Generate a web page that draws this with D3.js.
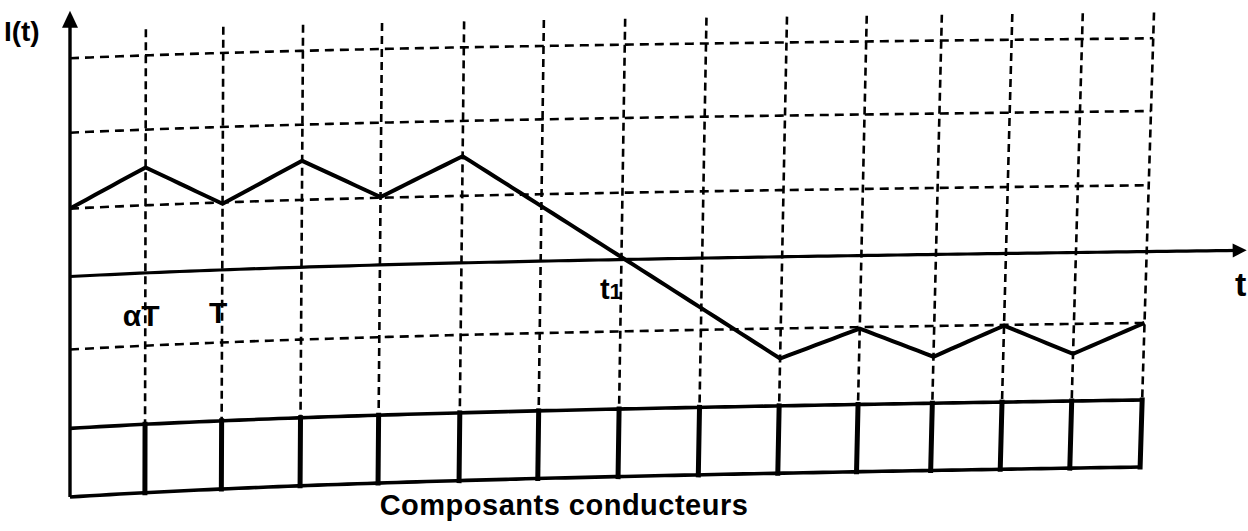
<!DOCTYPE html>
<html><head><meta charset="utf-8">
<script src="https://cdn.jsdelivr.net/npm/d3@7"></script>
<style>html,body{margin:0;padding:0;background:#fff;} svg{display:block;} text{font-family:"Liberation Sans",Arial,sans-serif;font-weight:bold;fill:#000;}</style>
</head><body><svg id="c" width="1248" height="531"></svg>
<script>
// ---- data ----
const gridTimes   = [0.98, 1.98, 3.01, 4.03, 5.09, 6.12, 7.17, 8.22, 9.26, 10.29, 11.26, 12.17, 13.08, 14.0];
const waveTimes   = [0, 0.98, 1.98, 3.01, 4.03, 5.09, 9.26, 10.29, 11.26, 12.17, 13.08, 14.0];
const waveCurrent = [0.93, 1.45, 0.91, 1.47, 0.94, 1.48, -1.42, -1.02, -1.43, -1.01, -1.42, -1.00];
const gridLevels  = [2.99, 1.97, 0.93, -1.0];
const boxLevels   = [-2.08, -3.02];          // conducting-components strip (top, bottom)
const boxTimes    = [0, 0.98, 1.98, 3.01, 4.03, 5.09, 6.12, 7.17, 8.22, 9.26, 10.29, 11.26, 12.17, 13.08, 14.0];
const tickLabels     = ["αT", "T"];
const tickLabelTimes = [0.98, 1.98];
const crossLabel = ["t", "1"];
const crossTime  = 7.17;
const yLabel = "I(t)";
const xLabel = "t";
const caption = "Composants conducteurs";
const tMax = 14, tArrow = 15.3, iArrow = 3.64, gridTopLevel = 3.35;

// ---- scales ----
const svg = d3.select("#c");
const x = d3.scaleLinear().domain([0, tMax]).range([70, 1146]);
const y = d3.scaleLinear().domain([0, 1]).range([276.5, 203.5]);

// scanned-page distortion (page bends slightly upward to the right)
const TAU = 0.3, NORM = 1 - Math.exp(-1 / TAU);
function bend(r) { return 0.5 * r + 0.5 * (1 - Math.exp(-r / TAU)) / NORM; }
function warp(px, py) {
  const r = Math.max(0, (px - 70) / 1080);
  const s = bend(r);
  const A = 20 + 10 * (py - 58) / 439;
  return [px - 0.03 * r * (py - 300), py - A * s];
}
function dense(pts) {
  const out = [];
  for (let i = 0; i < pts.length - 1; i++) {
    const [x0, y0] = pts[i], [x1, y1] = pts[i + 1];
    const n = Math.max(1, Math.ceil(Math.hypot(x1 - x0, y1 - y0) / 10));
    for (let k = 0; k < n; k++) out.push([x0 + (x1 - x0) * k / n, y0 + (y1 - y0) * k / n]);
  }
  out.push(pts[pts.length - 1]);
  return out.map(p => warp(p[0], p[1]));
}
const line = d3.line();
const g = svg.append("g");

// horizontal dashed grid
g.selectAll(".hg").data(gridLevels).join("path")
  .attr("d", l => line(dense([[x(0), y(l)], [x(tMax), y(l)]])))
  .attr("fill", "none").attr("stroke", "#000").attr("stroke-width", 2.6)
  .attr("stroke-dasharray", "9,6");

// vertical dashed grid
g.selectAll(".vg").data(gridTimes).join("path")
  .attr("d", t => line(dense([[x(t), y(gridTopLevel)], [x(t), y(boxLevels[0])]])))
  .attr("fill", "none").attr("stroke", "#000").attr("stroke-width", 2.6)
  .attr("stroke-dasharray", "8,5");

// time axis
g.append("path")
  .attr("d", line(dense([[x(0), y(0)], [x(tArrow) - 10, y(0)]])))
  .attr("fill", "none").attr("stroke", "#000").attr("stroke-width", 3.2);
{
  const tip = warp(x(tArrow), y(0)), back = warp(x(tArrow) - 14, y(0));
  const a = Math.atan2(tip[1] - back[1], tip[0] - back[0]);
  const L = 14, Wd = 7;
  const bx = tip[0] - L * Math.cos(a), by = tip[1] - L * Math.sin(a);
  g.append("polygon").attr("points", [
    tip, [bx - Wd * Math.sin(a), by + Wd * Math.cos(a)], [bx + Wd * Math.sin(a), by - Wd * Math.cos(a)]
  ].map(p => p.join(",")).join(" ")).attr("fill", "#000");
}

// current axis
g.append("path")
  .attr("d", line(dense([[x(0), y(boxLevels[1])], [x(0), y(iArrow) + 10]])))
  .attr("fill", "none").attr("stroke", "#000").attr("stroke-width", 3.4);
{
  const tip = warp(x(0), y(iArrow));
  g.append("polygon").attr("points", [tip, [tip[0] - 8, tip[1] + 17], [tip[0] + 8, tip[1] + 17]].map(p => p.join(",")).join(" "))
    .attr("fill", "#000");
}

// conducting components strip
g.selectAll(".bx").data(boxLevels).join("path")
  .attr("d", l => line(dense([[x(0), y(l)], [x(tMax), y(l)]])))
  .attr("fill", "none").attr("stroke", "#000").attr("stroke-width", 3.6);
g.selectAll(".bd").data(boxTimes.slice(1)).join("path")
  .attr("d", t => line(dense([[x(t), y(boxLevels[0])], [x(t), y(boxLevels[1])]])))
  .attr("fill", "none").attr("stroke", "#000").attr("stroke-width", 5).attr("stroke-linecap", "square");

// current waveform
g.append("path")
  .attr("d", line(dense(waveTimes.map((t, i) => [x(t), y(waveCurrent[i])]))))
  .attr("fill", "none").attr("stroke", "#000").attr("stroke-width", 4).attr("stroke-linejoin", "miter");

// labels
const place = (t, v) => warp(x(t), y(v));
tickLabels.forEach((s, i) => {
  const p = place(tickLabelTimes[i], -0.735);
  g.append("text").attr("x", p[0] - 4).attr("y", p[1]).attr("text-anchor", "middle")
    .attr("font-size", 30).text(s);
});
{
  const p = place(crossTime, -0.555);
  const tx = g.append("text").attr("x", p[0] + 1).attr("y", p[1]).attr("text-anchor", "end").attr("font-size", 29);
  tx.append("tspan").text(crossLabel[0]);
  tx.append("tspan").attr("font-size", 22).text(crossLabel[1]);
}
{
  const p = place(-0.86, 3.23);
  g.append("text").attr("x", p[0]).attr("y", p[1]).attr("font-size", 28).text(yLabel);
}
{
  const p = place(15.24, -0.64);
  g.append("text").attr("x", p[0]).attr("y", p[1]).attr("text-anchor", "middle").attr("font-size", 34).text(xLabel);
}
{
  const p = place(6.47, -3.53);
  g.append("text").attr("x", p[0]).attr("y", p[1]).attr("text-anchor", "middle").attr("font-size", 29)
    .attr("letter-spacing", 0.5).text(caption);
}
</script></body></html>
